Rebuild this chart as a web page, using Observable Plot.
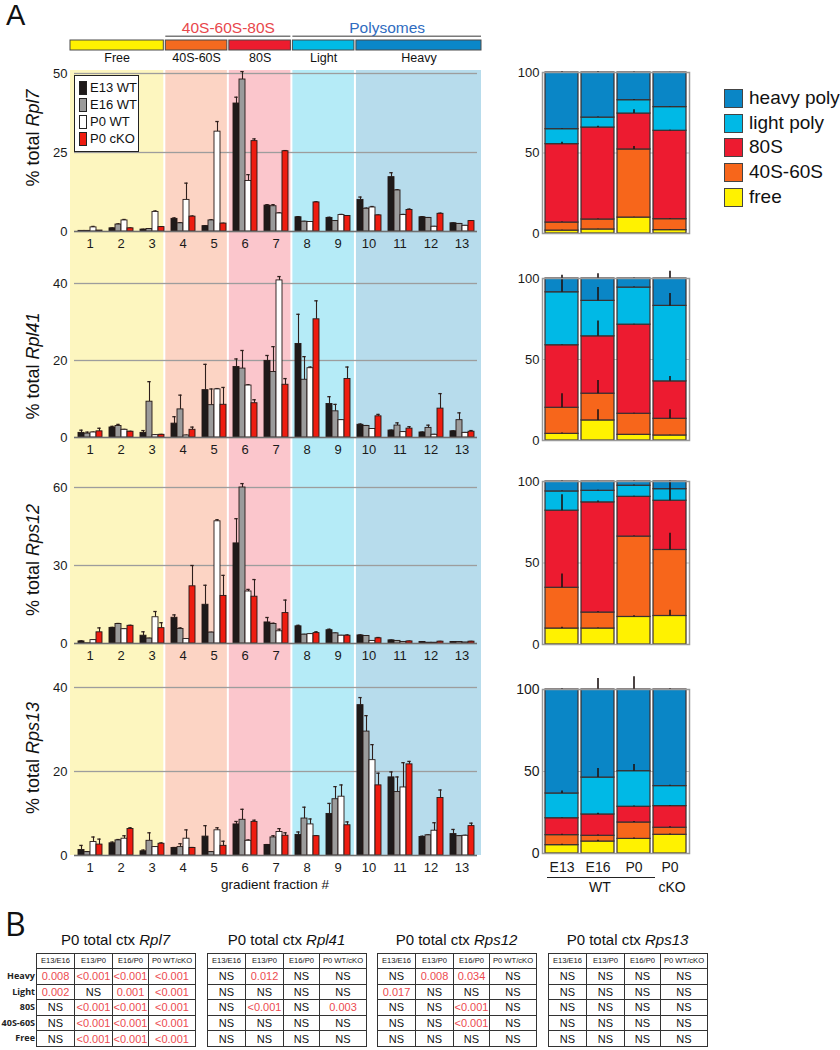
<!DOCTYPE html>
<html><head><meta charset="utf-8">
<script src="https://cdn.jsdelivr.net/npm/d3@7"></script>
<script src="https://cdn.jsdelivr.net/npm/@observablehq/plot@0.6"></script>
<style>
body{margin:0;background:#fff;font-family:"Liberation Sans",Arial,Helvetica,sans-serif;color:#111;}
#fig{position:relative;width:840px;height:1050px;overflow:hidden;background:#fff;}
.ylab{position:absolute;transform:translate(-50%,-50%) rotate(-90deg);white-space:nowrap;font-size:18px;color:#111;}
table.pt{position:absolute;border-collapse:collapse;table-layout:fixed;border:1.6px solid #222;}
table.pt td{border:1px solid #333;padding:0;text-align:center;white-space:nowrap;overflow:hidden;font-size:11px;height:14.6px;line-height:14px;}
table.pt tr.hd td{font-size:7.6px;height:14px;font-family:"Liberation Sans",Arial,sans-serif;}
</style></head>
<body><div id="fig"></div>
<script>
// ---------- DATA ----------
const fractions = [1,2,3,4,5,6,7,8,9,10,11,12,13];
const groups = ["E13 WT","E16 WT","P0 WT","P0 cKO"];
const groupColors = ["#1e1a1a","#9b9b9b","#ffffff","#ee1c10"];

const regionNames = ["Free","40S-60S","80S","Light","Heavy"];
const regionFirst = [1,4,6,8,10];
const regionLast  = [3,5,7,9,13];
const regionColors = ["#fff200","#f46a1f","#ed1c2e","#00bbe6","#0a87c8"];
const regionBg = ["#fdf6bf","#fcd4c4","#fbc6cc","#b5ebf7","#b7dcec"];

const superNames = ["40S-60S-80S","Polysomes"];
const superFirst = [4,8];
const superLast  = [7,13];
const superColors = ["#e8474c","#2f6cc0"];

const genes = ["Rpl7","Rpl41","Rps12","Rps13"];

const rpl7Mean = [
 [0.2,0.2,1.3,0.3],[1.0,2.2,3.5,1.0],[0.6,0.8,6.2,1.4],[4.0,2.6,10.0,4.7],
 [1.7,3.5,31.6,2.5],[40.5,48.1,16.0,28.6],[8.2,8.0,5.7,25.4],[4.5,3.1,3.0,9.2],
 [4.3,3.3,5.2,4.9],[10.0,7.2,7.6,5.1],[17.2,13.0,5.2,6.8],[4.5,4.3,1.5,5.6],[2.6,2.4,1.8,3.3]];
const rpl7Sem = [
 [0,0,0.3,0],[0.1,0.2,0.3,0.1],[0.1,0.1,0.3,0.1],[0.3,0.2,5.3,0.2],
 [0.1,0.2,3.2,0.1],[2.0,2.5,2.0,0.7],[0.3,0.5,0.2,0.2],[0.2,0.1,0.1,0.2],
 [0.2,0.1,0.2,0.1],[0.9,0.2,0.3,0.1],[1.4,0.2,0.2,0.3],[0.2,0.1,0.1,0.2],[0.1,0.1,0.1,0.1]];

const rpl41Mean = [
 [1.2,1.0,1.3,1.6],[2.6,3.0,2.0,1.5],[1.2,9.3,0.6,0.7],[3.6,7.3,0.5,2.0],
 [12.3,8.4,12.5,8.5],[18.3,17.9,13.5,8.9],[19.9,17.0,40.8,13.7],[24.3,15.0,18.0,30.7],
 [8.7,6.8,4.5,15.2],[3.3,3.0,2.2,5.5],[1.8,3.1,1.4,2.3],[1.3,2.5,0.7,7.5],[1.6,4.5,1.2,1.5]];
const rpl41Sem = [
 [0.7,0.4,0.1,0.8],[0.3,0.4,0.1,0.1],[0.6,5.2,0.1,0.1],[1.8,3.7,0.1,0.7],
 [6.7,4.2,0.2,4.5],[2.1,4.7,0.2,0.9],[1.4,6.6,1.0,1.6],[7.7,6.0,0.3,4.8],
 [1.9,1.8,0.1,3.1],[0.2,0.1,0.1,0.5],[0.1,0.7,0.1,0.5],[0.1,0.7,0.1,3.9],[0.1,1.9,0.1,0.3]];

const rps12Mean = [
 [0.8,0.1,1.3,4.3],[6.0,7.5,5.5,6.8],[3.0,1.9,10.1,5.9],[9.9,5.6,1.7,22.0],
 [14.9,4.2,47.0,18.3],[38.5,60.0,20.0,18.0],[8.1,7.5,4.7,11.7],[6.6,3.4,3.6,4.0],
 [5.1,3.9,3.0,3.0],[3.1,2.9,1.0,2.0],[1.2,1.0,0.6,0.8],[0.6,0.3,0.3,0.7],[0.6,0.6,0.4,0.7]];
const rps12Sem = [
 [0.2,0,0.1,1.7],[0.2,0.2,0.1,0.2],[1.5,0.1,2.2,2.1],[1.1,0.4,0.1,8.0],
 [7.5,0.1,0.6,7.9],[9.5,1.5,0.8,6.6],[1.9,0.3,0.8,5.0],[0.4,0.1,0.1,0.5],
 [0.4,0.1,0.1,0.3],[0.2,0.1,0.1,0.3],[0.1,0.1,0.1,0.1],[0.1,0,0,0.1],[0.1,0.1,0,0.1]];

const rps13Mean = [
 [1.3,0.8,3.2,2.6],[2.9,3.6,4.0,6.3],[1.0,3.5,2.0,2.8],[1.8,2.0,4.0,1.8],
 [4.5,0.8,6.0,2.3],[7.4,8.5,3.5,8.0],[2.5,4.3,5.6,4.7],[4.9,8.8,7.4,4.6],
 [9.9,13.4,14.0,7.2],[35.8,29.5,22.7,16.7],[18.6,15.1,16.2,21.7],[4.4,4.8,5.9,13.7],[5.1,4.6,4.7,7.0]];
const rps13Sem = [
 [1.1,0.1,1.2,1.3],[0.3,0.2,0.7,0.3],[0.3,1.9,0.1,0.2],[0.1,0.8,2.1,0.1],
 [2.6,0.1,0.6,1.1],[0.7,2.5,0.2,0.4],[0.1,0.4,0.8,0.7],[0.7,2.7,1.3,0.1],
 [2.5,3.0,2.8,0.8],[1.8,3.8,3.7,2.9],[1.3,3.6,5.9,0.7],[0.2,0.1,1.9,1.9],[1.1,0.1,0.1,0.7]];

const yTicksRpl7 = [0,25,50];
const yTicksRpl41 = [0,20,40];
const yTicksRps12 = [0,30,60];
const yTicksRps13 = [0,20,40];

const samples = ["E13","E16","P0","P0 cKO"];
const sampleLabels = ["E13","E16","P0","P0"];
const categories = ["free","40S-60S","80S","light poly","heavy poly"];
const categoryColors = ["#fff200","#f7661b","#ed1b30","#00b9e6","#0a86c6"];

// per sample: [free, 40S-60S, 80S, light, heavy]
const rpl7Dist  = [[1.8,5.0,48.7,9.3,35.2],[2.5,6.2,57.1,6.2,28.0],[9.9,42.3,22.3,8.3,17.2],[2.1,6.8,54.9,14.7,21.5]];
const rpl7DistSem = [[0.2,0.3,1.2,0.3,0.5],[0.2,0.3,0.8,0.3,0.5],[0.2,1.8,2.4,0.5,0.3],[0.2,0.3,0.4,0.3,0.2]];
const rpl41Dist = [[4.1,16.1,38.6,32.7,8.5],[12.4,16.5,35.4,21.9,13.8],[3.5,13.0,55.0,22.9,5.6],[3.1,10.3,23.1,46.6,16.9]];
const rpl41DistSem = [[0.5,8.7,0.3,10.5,0.3],[6.6,8.2,9.5,8.2,3.0],[0.2,0.3,0.3,0.3,0.3],[0.2,5.6,3.0,7.6,4.5]];
const rps12Dist = [[9.8,25.0,47.3,11.8,6.1],[9.8,9.8,67.6,7.1,5.7],[16.9,49.3,24.4,6.8,2.6],[17.5,40.5,30.2,7.1,4.7]];
const rps12DistSem = [[0.8,8.5,9.8,0.3,0.3],[0.3,0.5,0.8,0.3,0.2],[0.8,0.3,0.3,0.5,0.3],[3.5,10.2,11.8,0.3,0.3]];
const rps13Dist = [[5.1,6.1,10.3,15.1,63.4],[7.3,3.5,13.0,22.5,53.7],[8.9,10.0,9.6,21.7,49.8],[11.4,4.3,13.2,12.2,58.9]];
const rps13DistSem = [[0.6,0.6,0.3,1.5,0.5],[0.8,0.5,0.8,5.5,6.7],[0.5,0.6,0.5,4.0,7.7],[0.5,0.6,0.3,0.5,0.5]];

const comparisons = ["E13/E16","E13/P0","E16/P0","P0 WT/cKO"];
const rowNames = ["Heavy","Light","80S","40S-60S","Free"];
const pRpl7 = [["0.008","<0.001","<0.001","<0.001"],["0.002","NS","0.001","<0.001"],["NS","<0.001","<0.001","<0.001"],["NS","<0.001","<0.001","<0.001"],["NS","<0.001","<0.001","<0.001"]];
const pRpl41 = [["NS","0.012","NS","NS"],["NS","NS","NS","NS"],["NS","<0.001","NS","0.003"],["NS","NS","NS","NS"],["NS","NS","NS","NS"]];
const pRps12 = [["NS","0.008","0.034","NS"],["0.017","NS","NS","NS"],["NS","NS","<0.001","NS"],["NS","NS","<0.001","NS"],["NS","NS","NS","NS"]];
const pRps13 = [["NS","NS","NS","NS"],["NS","NS","NS","NS"],["NS","NS","NS","NS"],["NS","NS","NS","NS"],["NS","NS","NS","NS"]];

// ---------- LAYOUT ----------
const fig = document.getElementById("fig");
const FONT = "'Liberation Sans', Arial, Helvetica, sans-serif";
const PLOT_L = 69, PLOT_R = 482, BAR_W = 490;
const barLayout = [{top:73,bottom:231,labelY:138},{top:283,bottom:437,labelY:366},{top:487,bottom:643,labelY:560},{top:687,bottom:855,labelY:758}];
const stackLayout = [{top:72,bottom:233},{top:278,bottom:440},{top:481,bottom:644},{top:689,bottom:853}];
const tableLefts = [36,207,377,548];
const colWidths = [38,38,36,47];

function place(el, left, top){ el.style.position="absolute"; el.style.left=left+"px"; el.style.top=top+"px"; fig.appendChild(el); return el; }
function addDiv(html, css){ const d=document.createElement("div"); d.innerHTML=html; d.style.cssText="position:absolute;"+css; fig.appendChild(d); return d; }
const plotStyle = (size) => ({background:"transparent", overflow:"visible", fontFamily:FONT, fontSize:size+"px", color:"#1a1a1a"});

const regions = regionNames.map((name,i)=>({name, x1:regionFirst[i]-0.5, x2:regionLast[i]+0.5, mid:(regionFirst[i]+regionLast[i])/2, band:regionColors[i], bg:regionBg[i]}));
const supers = superNames.map((name,i)=>({name, x1:superFirst[i]-0.5, x2:superLast[i]+0.5, mid:(superFirst[i]+superLast[i])/2, color:superColors[i]}));
const fracDomain = [fractions[0]-0.5, fractions[fractions.length-1]+0.5];

// background shading
place(Plot.plot({
  width:BAR_W, height:785, marginLeft:PLOT_L, marginRight:BAR_W-PLOT_R, marginTop:0, marginBottom:0,
  x:{domain:fracDomain, axis:null}, color:{type:"identity"}, style:plotStyle(12),
  marks:[Plot.rect(regions,{x1:"x1",x2:"x2",fill:"bg",insetLeft:1,insetRight:1})]
}), 0, 70);

// header: supergroup labels with underline (frame = the 1.5px line)
place(Plot.plot({
  width:BAR_W, height:24, marginLeft:PLOT_L, marginRight:BAR_W-PLOT_R, marginTop:22.5, marginBottom:0,
  x:{domain:fracDomain, axis:null}, color:{type:"identity"}, style:plotStyle(12),
  marks:[
    Plot.rect(supers,{x1:"x1",x2:"x2",fill:"#7a7a7a",insetLeft:1,insetRight:1}),
    Plot.text(supers,{x:"mid",text:"name",frameAnchor:"top",lineAnchor:"middle",dy:-8,fontSize:15.5,fill:"color"})
  ]
}), 0, 12.5);

// header: region colour band with names
place(Plot.plot({
  width:BAR_W, height:40, marginLeft:PLOT_L, marginRight:BAR_W-PLOT_R, marginTop:5, marginBottom:25,
  x:{domain:fracDomain, axis:null}, color:{type:"identity"}, style:plotStyle(12),
  marks:[
    Plot.rect(regions,{x1:"x1",x2:"x2",fill:"band",stroke:"#4a4a4a",strokeWidth:1,insetLeft:1,insetRight:1}),
    Plot.text(regions,{x:"mid",text:"name",frameAnchor:"bottom",lineAnchor:"middle",dy:7.5,fontSize:12.5,fill:"#111"})
  ]
}), 0, 35);

function barPanel(means, sems, ticks, lay){
  const data = fractions.flatMap((f,i)=>groups.map((g,j)=>({fraction:f, group:g, value:means[i][j], err:sems[i][j]})));
  const mt=14, mb=24;
  const p = Plot.plot({
    width:BAR_W, height:lay.bottom-lay.top+mt+mb,
    marginLeft:PLOT_L, marginRight:BAR_W-PLOT_R, marginTop:mt, marginBottom:mb,
    style:plotStyle(13),
    fx:{domain:fractions, padding:0, axis:"bottom", label:null, tickSize:0, tickPadding:7},
    x:{domain:groups, axis:null, paddingInner:0, paddingOuter:0.5},
    y:{domain:[0, ticks[ticks.length-1]], ticks, label:null, tickSize:0, tickPadding:7},
    color:{domain:groups, range:groupColors},
    marks:[
      Plot.ruleY(ticks.slice(1),{stroke:"#9d9d9d",strokeWidth:1.3}),
      Plot.ruleX(data,{filter:d=>d.err>0, fx:"fraction", x:"group", y1:"value", y2:d=>d.value+d.err, stroke:"#2e1f1c", strokeWidth:1.1}),
      Plot.tickY(data,{filter:d=>d.err>0, fx:"fraction", x:"group", y:d=>d.value+d.err, stroke:"#2e1f1c", strokeWidth:1.3, insetLeft:1.3, insetRight:1.3}),
      Plot.barY(data,{fx:"fraction", x:"group", y:"value", fill:"group", stroke:"#241816", strokeWidth:0.9}),
      Plot.ruleY([0],{stroke:"#6f6f6f",strokeWidth:1.6})
    ]
  });
  place(p, 0, lay.top-mt);
}

function stackPanel(dist, sems, lay, showX){
  const data = samples.flatMap((s,i)=>{ let acc=0; return categories.map((c,j)=>{ acc+=dist[i][j]; return {sample:s, category:c, value:dist[i][j], top:acc, err:sems[i][j]}; }); });
  const mt=10, mb=showX?30:10;
  const p = Plot.plot({
    width:200, height:lay.bottom-lay.top+mt+mb, marginLeft:42, marginRight:11, marginTop:mt, marginBottom:mb,
    style:plotStyle(showX?14:13),
    x:{domain:samples, padding:0.08, axis:showX?"bottom":null, label:null, tickSize:0, tickPadding:9, tickFormat:d=>sampleLabels[samples.indexOf(d)]},
    y:{domain:[0,100], ticks:[0,50,100], label:null, tickSize:0, tickPadding:3},
    color:{domain:categories, range:categoryColors},
    marks:[
      Plot.ruleY([50],{stroke:"#bdbdbd"}),
      Plot.barY(data,{x:"sample", y:"value", fill:"category", stroke:"#3a3030", strokeWidth:1.2}),
      Plot.ruleX(data,{x:"sample", y1:"top", y2:d=>d.top+d.err, stroke:"#1d1414", strokeWidth:1.6}),
      Plot.frame({stroke:"#9a9a9a", strokeWidth:1.5})
    ]
  });
  place(p, 500, lay.top-mt);
}

const barMeans = [rpl7Mean, rpl41Mean, rps12Mean, rps13Mean];
const barSems = [rpl7Sem, rpl41Sem, rps12Sem, rps13Sem];
const barTicks = [yTicksRpl7, yTicksRpl41, yTicksRps12, yTicksRps13];
const dists = [rpl7Dist, rpl41Dist, rps12Dist, rps13Dist];
const distSems = [rpl7DistSem, rpl41DistSem, rps12DistSem, rps13DistSem];
const pTables = [pRpl7, pRpl41, pRps12, pRps13];

genes.forEach((g,k)=>{
  barPanel(barMeans[k], barSems[k], barTicks[k], barLayout[k]);
  stackPanel(dists[k], distSems[k], stackLayout[k], k===genes.length-1);
  const yl = addDiv(`% total <i>${g}</i>`, `left:33px;top:${barLayout[k].labelY}px;`);
  yl.className = "ylab";
});

// panel letters and captions
addDiv("A", "left:6px;top:1px;font-size:29px;line-height:29px;");
addDiv("B", "left:5px;top:908px;font-size:32px;line-height:32px;font-family:'Open Sans',Arial,sans-serif;");
addDiv("gradient fraction #", "left:275px;top:885px;transform:translate(-50%,-50%);font-size:13.5px;line-height:14px;white-space:nowrap;");

// bar legend
addDiv("", "left:74px;top:75px;width:65px;height:77px;border:1px solid #222;background:#fff;box-sizing:border-box;");
groups.forEach((g,j)=>{
  addDiv("", `left:79px;top:${81+j*17}px;width:8px;height:14px;background:${groupColors[j]};border:1px solid #222;box-sizing:border-box;`);
  addDiv(g, `left:90px;top:${80+j*17}px;font-size:13px;line-height:16px;white-space:nowrap;`);
});

// stacked legend (top to bottom: heavy first)
categories.slice().reverse().forEach((c,j)=>{
  const i = categories.length-1-j;
  addDiv("", `left:724px;top:${89+j*24.7}px;width:19px;height:19px;background:${categoryColors[i]};border:1px solid #444;box-sizing:border-box;`);
  addDiv(c, `left:749px;top:${87+j*24.7}px;font-size:19px;line-height:22px;white-space:nowrap;`);
});

// second line of stacked x labels
addDiv("", "left:547px;top:877px;width:108px;height:0;border-top:1.5px solid #222;");
addDiv("WT", "left:600px;top:887px;transform:translate(-50%,-50%);font-size:14px;");
addDiv("cKO", "left:672px;top:887px;transform:translate(-50%,-50%);font-size:14px;");

// tables
const tableTop = 953;
rowNames.forEach((r,i)=>{
  addDiv(r, `left:0px;width:35px;text-align:right;top:${tableTop+15+i*15.6}px;height:15.6px;line-height:15.6px;font-size:9px;font-weight:bold;font-family:'Open Sans',Arial,sans-serif;color:#222;`);
});
genes.forEach((g,k)=>{
  const left = tableLefts[k];
  const w = d3.sum(colWidths);
  addDiv(`P0 total ctx <i>${g}</i>`, `left:${left}px;width:${w}px;text-align:center;top:931px;font-size:15px;white-space:nowrap;`);
  const t = document.createElement("table"); t.className="pt";
  const cg = document.createElement("colgroup");
  colWidths.forEach(cw=>{ const c=document.createElement("col"); c.style.width=cw+"px"; cg.appendChild(c); });
  t.appendChild(cg);
  const hr = document.createElement("tr"); hr.className="hd";
  comparisons.forEach(c=>{ const td=document.createElement("td"); td.textContent=c; hr.appendChild(td); });
  t.appendChild(hr);
  pTables[k].forEach(row=>{
    const tr=document.createElement("tr");
    row.forEach(v=>{ const td=document.createElement("td"); td.textContent=v; td.style.color = v==="NS" ? "#111" : "#ec4a4f"; tr.appendChild(td); });
    t.appendChild(tr);
  });
  t.style.width = w+"px";
  place(t, left, tableTop);
});
</script></body></html>
